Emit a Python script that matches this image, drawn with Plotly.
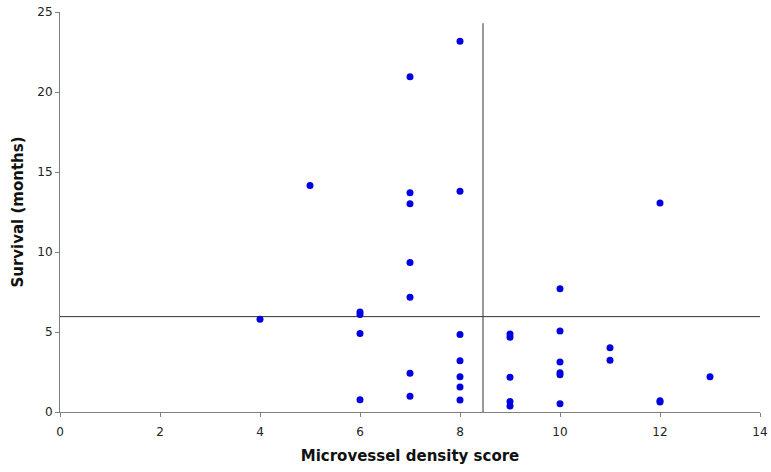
import plotly.graph_objects as go

mvd_score = [4, 5, 6, 6, 6, 6,
             7, 7, 7, 7, 7, 7, 7,
             8, 8, 8, 8, 8, 8, 8,
             9, 9, 9, 9, 9,
             10, 10, 10, 10, 10, 10,
             11, 11, 12, 12, 12, 13]
survival = [5.8, 14.15, 6.25, 6.1, 4.9, 0.77,
            20.95, 13.7, 13.02, 9.35, 7.17, 2.42, 0.98,
            23.17, 13.79, 4.85, 3.21, 2.21, 1.56, 0.75,
            4.87, 4.67, 2.17, 0.65, 0.37,
            7.71, 5.06, 3.13, 2.46, 2.33, 0.52,
            4.02, 3.23, 13.06, 0.7, 0.62, 2.21]

mvd_cutoff = 8.46
mvd_cutoff_top = 24.3
survival_cutoff = 5.96

fig = go.Figure()
fig.add_trace(go.Scatter(x=mvd_score, y=survival, mode="markers",
                         marker=dict(color="#0000E0", size=7),
                         cliponaxis=False, showlegend=False))

fig.add_shape(type="line", xref="x", yref="y", x0=mvd_cutoff, x1=mvd_cutoff,
              y0=0, y1=mvd_cutoff_top, line=dict(color="#333333", width=1), layer="below")
fig.add_shape(type="line", xref="x", yref="y", x0=0, x1=14.1,
              y0=survival_cutoff, y1=survival_cutoff, line=dict(color="#333333", width=1), layer="below")

font_family = "DejaVu Sans, Verdana, sans-serif"
fig.update_layout(
    width=771, height=472,
    margin=dict(l=60, r=11, t=12, b=60),
    plot_bgcolor="white", paper_bgcolor="white",
    font=dict(family=font_family, size=12, color="#222222"),
    xaxis=dict(range=[0, 14], tickmode="array", tickvals=[0, 2, 4, 6, 8, 10, 12, 14],
               automargin=False, ticklabelstandoff=5,
               showgrid=False, zeroline=False, showline=True, linecolor="#808080", linewidth=1,
               ticks="outside", ticklen=4, tickcolor="#808080",
               title=dict(text="<b>Microvessel density score</b>", font=dict(size=15, color="#111111"), standoff=12)),
    yaxis=dict(range=[0, 25], tickmode="array", tickvals=[0, 5, 10, 15, 20, 25],
               automargin=False,
               showgrid=False, zeroline=False, showline=True, linecolor="#808080", linewidth=1,
               ticks="outside", ticklen=4, tickcolor="#808080",
               title=dict(text="<b>Survival (months)</b>", font=dict(size=15, color="#111111"), standoff=10)),
)

fig.write_html("out.html")
